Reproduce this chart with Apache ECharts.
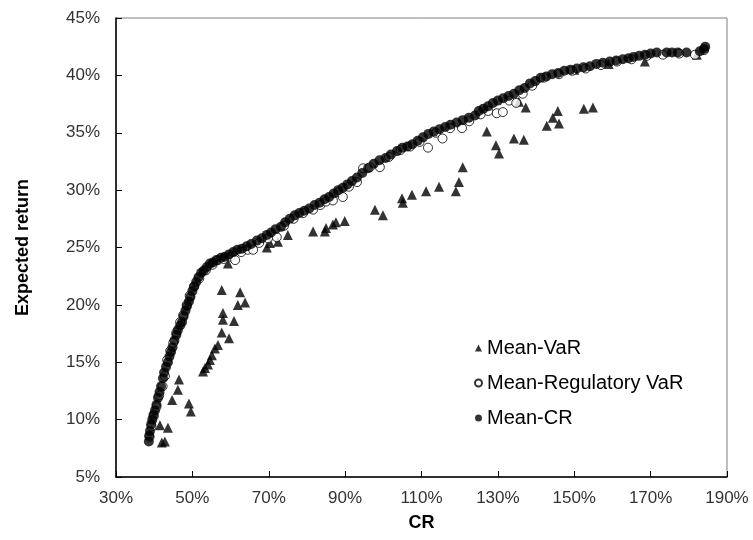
<!DOCTYPE html>
<html lang="en">
  <head>
    <meta charset="UTF-8" />
    <title>Expected return vs CR</title>
    <style>
      * {
        margin: 0;
        padding: 0;
      }
      #main {
        width: 753px;
        height: 540px;
        background: #fff;
      }
    </style>
  </head>

  <body>
    <div id="main"></div>
  </body>

  <script src="https://cdn.jsdelivr.net/npm/echarts@6/dist/echarts.min.js"></script>
  <script>
    // 坐标轴刻度
    const xTicks = { min: 30, max: 190, step: 20 };
    const yTicks = { min: 5, max: 45, step: 5 };

    // Mean-VaR (三角形) [CR %, Expected return %]
    const meanVaR = [
      [41.5, 9.5], [43.6, 9.3], [42.0, 8.0], [42.8, 8.1], [44.7, 11.7], [46.2, 12.6],
      [46.5, 13.5], [49.1, 11.4], [49.6, 10.7],
      [52.8, 14.2], [53.3, 14.5], [54.1, 14.8], [54.6, 15.2], [55.1, 15.6], [55.9, 16.2],
      [56.7, 16.5], [57.7, 17.6], [59.6, 17.1], [58.0, 18.7], [58.0, 19.3], [60.9, 18.6],
      [57.7, 21.3], [62.5, 21.1], [61.9, 20.0], [63.8, 20.2], [59.3, 23.6],
      [69.5, 25.0], [70.3, 25.4], [72.4, 25.5], [75.0, 26.1], [81.6, 26.4], [84.7, 26.4],
      [85.0, 26.7], [86.8, 27.0], [87.6, 27.2], [89.9, 27.3], [97.8, 28.3], [99.9, 27.8],
      [104.9, 29.3], [105.1, 28.9], [107.5, 29.6], [111.2, 29.9], [114.6, 30.3], [119.0, 29.9],
      [119.8, 30.7], [120.8, 32.0], [127.1, 35.1], [129.5, 33.9], [130.3, 33.2], [134.2, 34.5],
      [136.8, 34.4], [137.3, 37.2], [135.5, 37.7], [142.8, 35.6], [144.4, 36.3], [146.0, 35.8],
      [145.7, 36.9], [152.5, 37.1], [154.9, 37.2], [150.0, 40.5], [159.0, 41.0], [168.5, 41.2],
      [182.1, 41.8]
    ];

    // Mean-Regulatory VaR (空心圆)
    const meanRegVaR = [
      [38.8, 8.5], [39.3, 9.4], [39.9, 10.3], [40.6, 11.1], [41.3, 12.1], [42.2, 12.9],
      [42.8, 13.8], [43.4, 15.2], [44.2, 16.0], [45.0, 16.7], [45.8, 17.6], [46.8, 18.5],
      [47.6, 19.1], [48.5, 20.0], [49.3, 20.8], [50.4, 21.6], [51.8, 22.3], [53.5, 23.0],
      [55.3, 23.5], [56.7, 23.9], [58.2, 24.0], [60.0, 24.2], [61.2, 23.9], [62.8, 24.6],
      [64.5, 24.8], [65.9, 24.8], [67.5, 25.4], [69.8, 25.8], [72.1, 25.9], [74.0, 26.9],
      [76.5, 27.5], [79.0, 28.0], [81.6, 28.3], [83.5, 28.7], [85.0, 29.0], [86.8, 29.1],
      [88.2, 29.8], [89.4, 29.4], [91.0, 30.3], [93.1, 30.7], [94.7, 31.9], [96.5, 32.0],
      [99.1, 32.0], [101.5, 32.9], [104.5, 33.5], [107.0, 33.8], [109.5, 34.2], [111.7, 33.7],
      [113.8, 35.0], [115.5, 34.5], [117.5, 35.4], [120.6, 35.4], [122.5, 36.0], [125.5, 36.6],
      [127.5, 36.9], [129.7, 36.7], [131.3, 36.8], [133.0, 37.8], [134.8, 37.6], [136.5, 38.4],
      [139.0, 39.1], [142.0, 39.8], [146.0, 40.1], [149.5, 40.4], [153.0, 40.6], [157.0, 40.9],
      [161.2, 41.2], [165.0, 41.4], [169.0, 41.7], [173.2, 41.8], [177.5, 41.9], [181.6, 41.8],
      [184.0, 42.2]
    ];

    // Mean-CR (实心圆)
    const meanCR = [
      [38.6, 8.1], [38.7, 8.6], [38.9, 9.0], [39.2, 9.6], [39.5, 10.0], [39.8, 10.4],
      [40.2, 10.8], [40.6, 11.3], [41.0, 11.9], [41.4, 12.4], [41.8, 12.9], [42.3, 13.6],
      [42.6, 14.1], [43.1, 14.6], [43.6, 15.0], [44.0, 15.5], [44.4, 15.9], [44.8, 16.3],
      [45.3, 16.9], [45.8, 17.4], [46.2, 17.8], [46.8, 18.2], [47.3, 18.5], [47.7, 19.0],
      [48.2, 19.5], [48.6, 19.9], [49.1, 20.3], [49.5, 20.7], [50.0, 21.2], [50.5, 21.6],
      [51.0, 22.0], [51.6, 22.4], [52.3, 22.8], [53.0, 23.0], [53.8, 23.3], [54.6, 23.6],
      [55.4, 23.7], [56.3, 23.9], [57.5, 24.1], [58.5, 24.2], [59.6, 24.4], [60.7, 24.6],
      [61.8, 24.8], [63.0, 24.9], [64.2, 25.1], [65.4, 25.3], [66.9, 25.6], [68.2, 25.8],
      [69.5, 26.1], [70.6, 26.3], [71.8, 26.6], [73.2, 26.8], [74.3, 27.2], [75.5, 27.5],
      [76.8, 27.8], [78.0, 28.0], [79.3, 28.2], [80.6, 28.4], [82.0, 28.7], [83.3, 28.9],
      [84.6, 29.2], [85.8, 29.4], [87.0, 29.7], [88.2, 30.0], [89.4, 30.2], [90.6, 30.5],
      [91.8, 30.8], [93.1, 31.1], [94.5, 31.5], [96.0, 31.9], [97.5, 32.3], [99.0, 32.6],
      [100.6, 32.8], [102.0, 33.1], [103.6, 33.4], [105.0, 33.7], [106.3, 33.8], [107.6, 34.0],
      [109.0, 34.3], [110.4, 34.6], [111.8, 34.9], [113.2, 35.1], [114.7, 35.3], [116.2, 35.5],
      [117.6, 35.7], [119.2, 35.9], [120.8, 36.1], [122.4, 36.3], [124.0, 36.5], [125.0, 36.9],
      [126.2, 37.1], [127.4, 37.3], [128.7, 37.6], [130.0, 37.8], [131.4, 38.0], [132.8, 38.2],
      [134.2, 38.4], [135.6, 38.7], [137.0, 38.9], [138.4, 39.3], [139.8, 39.5], [141.2, 39.8],
      [142.7, 39.9], [144.2, 40.1], [145.8, 40.2], [147.4, 40.4], [149.0, 40.5], [150.7, 40.6],
      [152.4, 40.7], [154.1, 40.8], [155.8, 41.0], [157.5, 41.1], [159.3, 41.2], [161.0, 41.3],
      [162.7, 41.4], [164.2, 41.5], [165.5, 41.6], [167.0, 41.7], [168.5, 41.8], [170.0, 41.9],
      [171.6, 42.0], [174.2, 42.0], [175.6, 42.0], [177.1, 42.0], [179.4, 42.0], [182.9, 42.1],
      [184.0, 42.3], [184.3, 42.5]
    ];

    const font = "Liberation Sans, Arial, sans-serif";

    var myChart = echarts.init(document.getElementById("main"));

    let option = {
      animation: false,
      backgroundColor: "#fff",
      textStyle: { fontFamily: font },
      // 绘图区域
      grid: {
        left: 116,
        right: 26,
        top: 18,
        bottom: 63,
        show: true,
        borderColor: "#808080",
        borderWidth: 1,
      },
      legend: {
        orient: "vertical",
        left: 469,
        top: 333,
        itemWidth: 7,
        itemHeight: 7,
        itemGap: 15,
        textStyle: {
          fontFamily: font,
          fontSize: 20,
          lineHeight: 20,
          color: "#000",
        },
        data: ["Mean-VaR", "Mean-Regulatory VaR", "Mean-CR"],
      },
      xAxis: {
        type: "value",
        min: xTicks.min,
        max: xTicks.max,
        interval: xTicks.step,
        name: "CR",
        nameLocation: "middle",
        nameGap: 37,
        nameTextStyle: { fontFamily: font, fontSize: 18, fontWeight: "bold", color: "#000" },
        axisLine: { lineStyle: { color: "#000", width: 1.5 } },
        axisTick: { inside: true, length: 6, lineStyle: { color: "#000" } },
        axisLabel: {
          formatter: "{value}%",
          fontSize: 17,
          color: "#333",
          margin: 13,
        },
        splitLine: { show: false },
      },
      yAxis: {
        type: "value",
        min: yTicks.min,
        max: yTicks.max,
        interval: yTicks.step,
        name: "Expected return",
        nameLocation: "middle",
        nameGap: 84,
        nameTextStyle: { fontFamily: font, fontSize: 18, fontWeight: "bold", color: "#000" },
        axisLine: { lineStyle: { color: "#000", width: 1.5 } },
        axisTick: { inside: true, length: 6, lineStyle: { color: "#000" } },
        axisLabel: {
          formatter: "{value}%",
          fontSize: 17,
          color: "#333",
          margin: 16,
        },
        splitLine: { show: false },
      },
      series: [
        {
          name: "Mean-VaR",
          type: "scatter",
          symbol: "triangle",
          symbolSize: 10,
          itemStyle: { color: "#000" },
          data: meanVaR,
        },
        {
          name: "Mean-Regulatory VaR",
          type: "scatter",
          symbol: "circle",
          symbolSize: 9,
          itemStyle: { color: "#fff", borderColor: "#000", borderWidth: 1 },
          data: meanRegVaR,
        },
        {
          name: "Mean-CR",
          type: "scatter",
          symbol: "circle",
          symbolSize: 10,
          itemStyle: { color: "#000" },
          data: meanCR,
        },
      ],
    };

    myChart.setOption(option);
  </script>
</html>
